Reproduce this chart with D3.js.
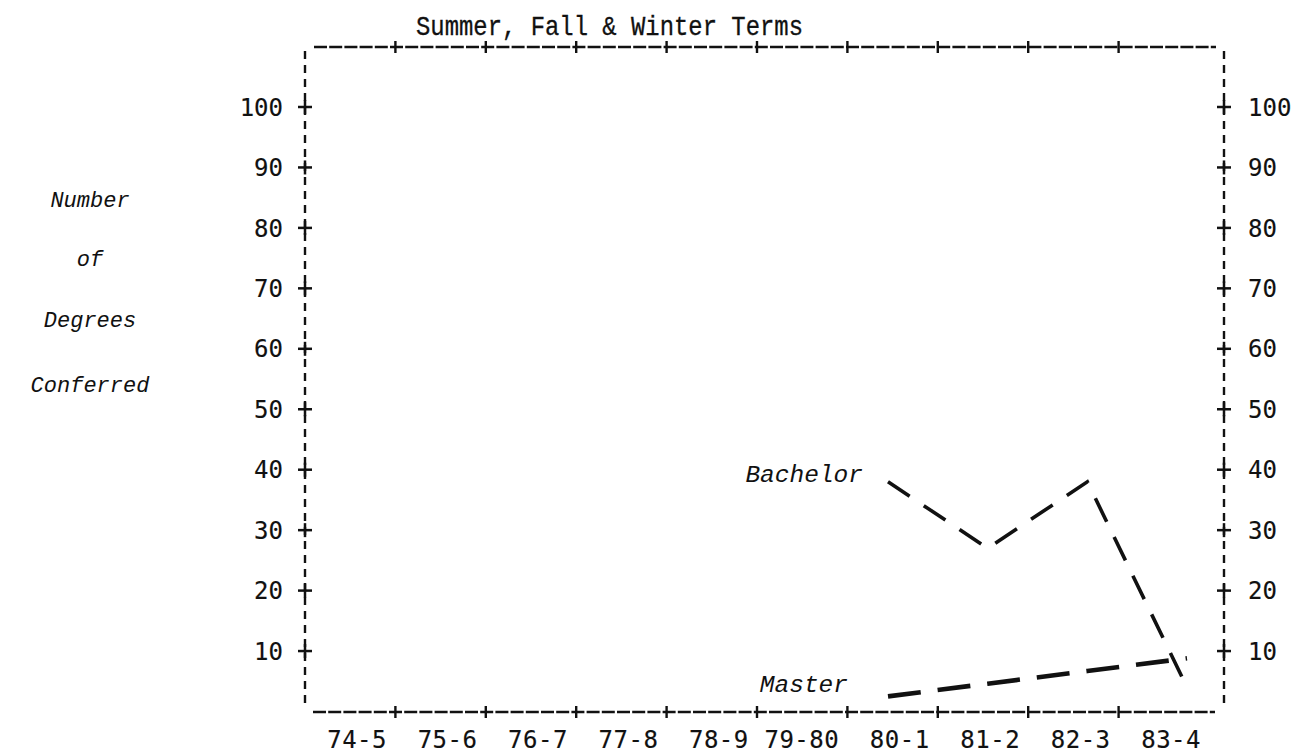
<!DOCTYPE html>
<html>
<head>
<meta charset="utf-8">
<script src="https://cdn.jsdelivr.net/npm/d3@7"></script>
<style>
  html, body { margin: 0; padding: 0; background: #fff; }
  svg { display: block; }
</style>
</head>
<body>
<script>
// ---------------- data ----------------
const categories = ["74-5", "75-6", "76-7", "77-8", "78-9", "79-80", "80-1", "81-2", "82-3", "83-4"];
const yTickValues = [10, 20, 30, 40, 50, 60, 70, 80, 90, 100];
const bachelorYears = ["80-1", "81-2", "82-3", "83-4"];
const bachelorValues = [38, 27, 38, 4];
const masterYears = ["80-1", "81-2", "82-3", "83-4"];
const masterValues = [2.5, 4.6, 6.7, 8.8];
const chartTitle = "Summer, Fall & Winter Terms";
const yTitleLines = ["Number", "of", "Degrees", "Conferred"];
const seriesNames = ["Bachelor", "Master"];

// ---------------- layout ----------------
const W = 1309, H = 756;
const frame = { left: 305, right: 1224, top: 47, bottom: 712 };
const ink = "#111";

const svg = d3.select("body").append("svg").attr("width", W).attr("height", H);

const y = d3.scaleLinear().domain([0, 100]).range([711.5, 107]);
const xTick = d3.scaleLinear().domain([0, 10]).range([frame.left, frame.left + 904]);
const xLabel = d3.scalePoint().domain(categories).range([387, 1201]);
const xPlot = d3.scalePoint().domain(categories).range([290, 1187]);

const monoSans = "'DejaVu Sans Mono', monospace";
const monoSerif = "'Liberation Mono', 'Courier New', monospace";

// ---------------- frame ----------------
const g = svg.append("g");
g.append("line").attr("x1", 314).attr("x2", 1216).attr("y1", frame.top).attr("y2", frame.top)
  .attr("stroke", ink).attr("stroke-width", 2.6).attr("stroke-dasharray", "13,2.2");
g.append("line").attr("x1", 313).attr("x2", 1215).attr("y1", frame.bottom).attr("y2", frame.bottom)
  .attr("stroke", ink).attr("stroke-width", 2.6).attr("stroke-dasharray", "13,2.2");
g.append("line").attr("x1", frame.left).attr("x2", frame.left).attr("y1", 51).attr("y2", 709)
  .attr("stroke", ink).attr("stroke-width", 2.4).attr("stroke-dasharray", "8,6");
g.append("line").attr("x1", frame.right).attr("x2", frame.right).attr("y1", 51).attr("y2", 709)
  .attr("stroke", ink).attr("stroke-width", 2.4).attr("stroke-dasharray", "8,6");

const tickIdx = d3.range(1, 10);
[frame.top, frame.bottom].forEach(yy => {
  g.selectAll(null).data(tickIdx).enter().append("line")
    .attr("x1", d => xTick(d)).attr("x2", d => xTick(d))
    .attr("y1", yy - 6).attr("y2", yy + 6)
    .attr("stroke", ink).attr("stroke-width", 2.4);
});

[frame.left, frame.right].forEach(xx => {
  const pg = g.selectAll(null).data(yTickValues).enter().append("g");
  pg.append("line").attr("x1", xx - 7).attr("x2", xx + 7)
    .attr("y1", d => y(d)).attr("y2", d => y(d)).attr("stroke", ink).attr("stroke-width", 2.5);
  pg.append("line").attr("x1", xx).attr("x2", xx)
    .attr("y1", d => y(d) - 7).attr("y2", d => y(d) + 7).attr("stroke", ink).attr("stroke-width", 2.5);
});

const labelStyle = sel => sel.attr("font-family", monoSans).attr("font-size", 24)
  .attr("fill", ink).attr("stroke", ink).attr("stroke-width", 0.15);

labelStyle(g.selectAll(null).data(yTickValues).enter().append("text")
  .attr("x", 283).attr("y", d => y(d)).attr("dy", "0.36em")
  .attr("text-anchor", "end").text(d => d));
labelStyle(g.selectAll(null).data(yTickValues).enter().append("text")
  .attr("x", 1248).attr("y", d => y(d)).attr("dy", "0.36em")
  .attr("text-anchor", "start").text(d => d));
labelStyle(g.selectAll(null).data(categories).enter().append("text")
  .attr("x", d => xLabel(d)).attr("y", 748)
  .attr("text-anchor", "end").attr("letter-spacing", 0.5).text(d => d));

// title
svg.append("text").attr("x", 416).attr("y", 35)
  .attr("font-family", monoSerif).attr("font-size", 28)
  .attr("textLength", 387).attr("lengthAdjust", "spacingAndGlyphs")
  .attr("fill", ink).attr("stroke", ink).attr("stroke-width", 0.3).text(chartTitle);

// y title
svg.selectAll(null).data(yTitleLines).enter().append("text")
  .attr("x", 90).attr("y", (d, i) => [207, 266, 327, 392][i])
  .attr("text-anchor", "middle").attr("font-family", monoSerif).attr("font-style", "italic")
  .attr("font-size", 22).attr("fill", ink).text(d => d);

// ---------------- series ----------------
const line = d3.line().x(d => xPlot(d[0])).y(d => y(d[1]));
const bachelorData = bachelorYears.map((c, i) => [c, bachelorValues[i]]);
const masterData = masterYears.map((c, i) => [c, masterValues[i]]);

svg.append("path").datum(bachelorData).attr("d", line)
  .attr("fill", "none").attr("stroke", ink).attr("stroke-width", 3.6)
  .attr("stroke-dasharray", "26,17");
svg.append("path").datum(masterData).attr("d", line)
  .attr("fill", "none").attr("stroke", ink).attr("stroke-width", 4.6)
  .attr("stroke-dasharray", "33,17");

svg.append("text").attr("x", xPlot(bachelorYears[0]) - 25).attr("y", y(bachelorValues[0]))
  .attr("text-anchor", "end").attr("font-family", monoSerif).attr("font-style", "italic")
  .attr("font-size", 24.5).attr("fill", ink).text(seriesNames[0]);
svg.append("text").attr("x", xPlot(masterYears[0]) - 40).attr("y", y(masterValues[0]) - 4)
  .attr("text-anchor", "end").attr("font-family", monoSerif).attr("font-style", "italic")
  .attr("font-size", 24.5).attr("fill", ink).text(seriesNames[1]);
</script>
</body>
</html>
